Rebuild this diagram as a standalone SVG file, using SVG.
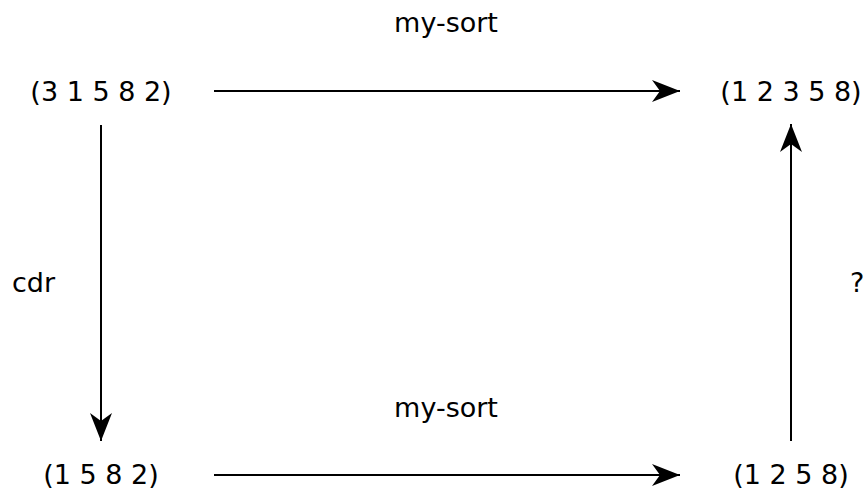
<svg xmlns="http://www.w3.org/2000/svg" width="867" height="489" viewBox="0 0 867 489">
<style>
text{font-family:"DejaVu Sans",sans-serif;font-size:27px;fill:#000}
.c{text-anchor:middle}
.e{stroke:#000;stroke-width:2;fill:none}
</style>
<defs>
<marker id="ah" markerUnits="userSpaceOnUse" markerWidth="30" markerHeight="24" refX="28" refY="11" orient="auto" viewBox="0 0 30 24">
<path d="M28,11 L0,0 L8,11 L0,22 Z" fill="#000"/>
</marker>
</defs>
<rect width="867" height="489" fill="#fff"/>
<g id="connectors">
<line class="e" x1="214" y1="91" x2="680" y2="91" marker-end="url(#ah)"/>
<line class="e" x1="214" y1="475" x2="680" y2="475" marker-end="url(#ah)"/>
<line class="e" x1="101" y1="125" x2="101" y2="441" marker-end="url(#ah)"/>
<line class="e" x1="791" y1="441" x2="791" y2="124" marker-end="url(#ah)"/>
<text class="c" x="446" y="32">my-sort</text>
<text class="c" x="446" y="417">my-sort</text>
<text x="12" y="292">cdr</text>
<text x="850" y="292">?</text>
</g>
<g id="n1"><text class="c" x="101" y="101">(3 1 5 8 2)</text></g>
<g id="n2"><text class="c" x="791" y="101">(1 2 3 5 8)</text></g>
<g id="n3"><text class="c" x="101" y="484">(1 5 8 2)</text></g>
<g id="n4"><text class="c" x="791" y="484">(1 2 5 8)</text></g>
</svg>
